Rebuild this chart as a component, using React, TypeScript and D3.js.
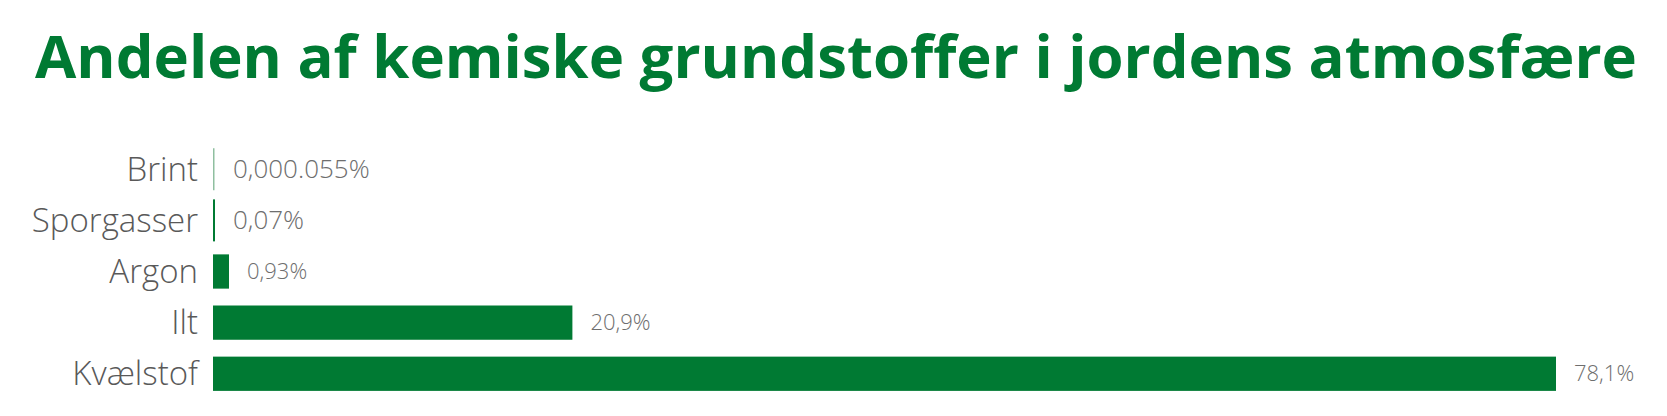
import { useEffect, useRef } from 'react';
import * as d3 from 'd3';

// Data
const elements = ['Brint', 'Sporgasser', 'Argon', 'Ilt', 'Kvælstof'];
const shares = [0.000055, 0.07, 0.93, 20.9, 78.1];
const shareLabels = ['0,000.055%', '0,07%', '0,93%', '20,9%', '78,1%'];
const title = 'Andelen af kemiske grundstoffer i jordens atmosfære';

const width = 1667;
const height = 416;
const green = '#007A33';
const font = "'Open Sans', 'DejaVu Sans', sans-serif";

function drawChart(node: SVGSVGElement) {
  const svg = d3.select(node);
  svg.selectAll('*').remove();

  // Title, stretched to the width it has in the original
  const t = svg.append('text')
    .attr('x', 35)
    .attr('y', 78)
    .attr('font-family', font)
    .attr('font-weight', 700)
    .attr('font-size', 66)
    .attr('fill', green)
    .text(title);
  const tw = (t.node() as SVGTextElement).getComputedTextLength();
  t.attr('font-size', 66 * 1602 / tw);

  const x = d3.scaleLinear()
    .domain([0, 78.1])
    .range([213, 1556]);

  const y = d3.scaleBand()
    .domain(elements)
    .range([147, 396])
    .paddingInner(0.33)
    .paddingOuter(0.1);

  const rows = elements.map((name, i) => ({ name, value: shares[i], label: shareLabels[i] }));

  // Bars (the tiny ones come out as thin lines)
  svg.selectAll('rect.bar')
    .data(rows)
    .join('rect')
    .attr('class', 'bar')
    .attr('x', x(0))
    .attr('y', d => d.value < 0.1 ? y(d.name)! + y.bandwidth() / 2 - 21 : y(d.name)!)
    .attr('width', d => Math.max(x(d.value) - x(0), d.value < 0.01 ? 1.5 : 2))
    .attr('height', d => d.value < 0.1 ? 42 : y.bandwidth())
    .attr('fill', d => d.value < 0.01 ? '#8fbfa0' : green);

  // Category labels
  svg.selectAll('text.cat')
    .data(rows)
    .join('text')
    .attr('class', 'cat')
    .attr('x', 198)
    .attr('y', d => y(d.name)! + y.bandwidth() / 2)
    .attr('dy', '0.35em')
    .attr('text-anchor', 'end')
    .attr('font-family', font)
    .attr('font-weight', 300)
    .attr('font-size', 33)
    .attr('fill', '#595959')
    .text(d => d.name);

  // Value labels
  svg.selectAll('text.val')
    .data(rows)
    .join('text')
    .attr('class', 'val')
    .attr('x', d => Math.max(x(d.value), x(0) + 2) + 18)
    .attr('y', d => y(d.name)! + y.bandwidth() / 2)
    .attr('dy', '0.35em')
    .attr('font-family', font)
    .attr('font-weight', 300)
    .attr('font-size', d => d.value < 0.1 ? 26 : 22)
    .attr('fill', '#6e6e6e')
    .text(d => d.label);
}

export default function App() {
  const ref = useRef<SVGSVGElement>(null);

  useEffect(() => {
    if (ref.current) drawChart(ref.current);
  }, []);

  return (
    <svg
      ref={ref}
      width={width}
      height={height}
      style={{ position: 'absolute', left: 0, top: 0, background: '#fff' }}
    />
  );
}
